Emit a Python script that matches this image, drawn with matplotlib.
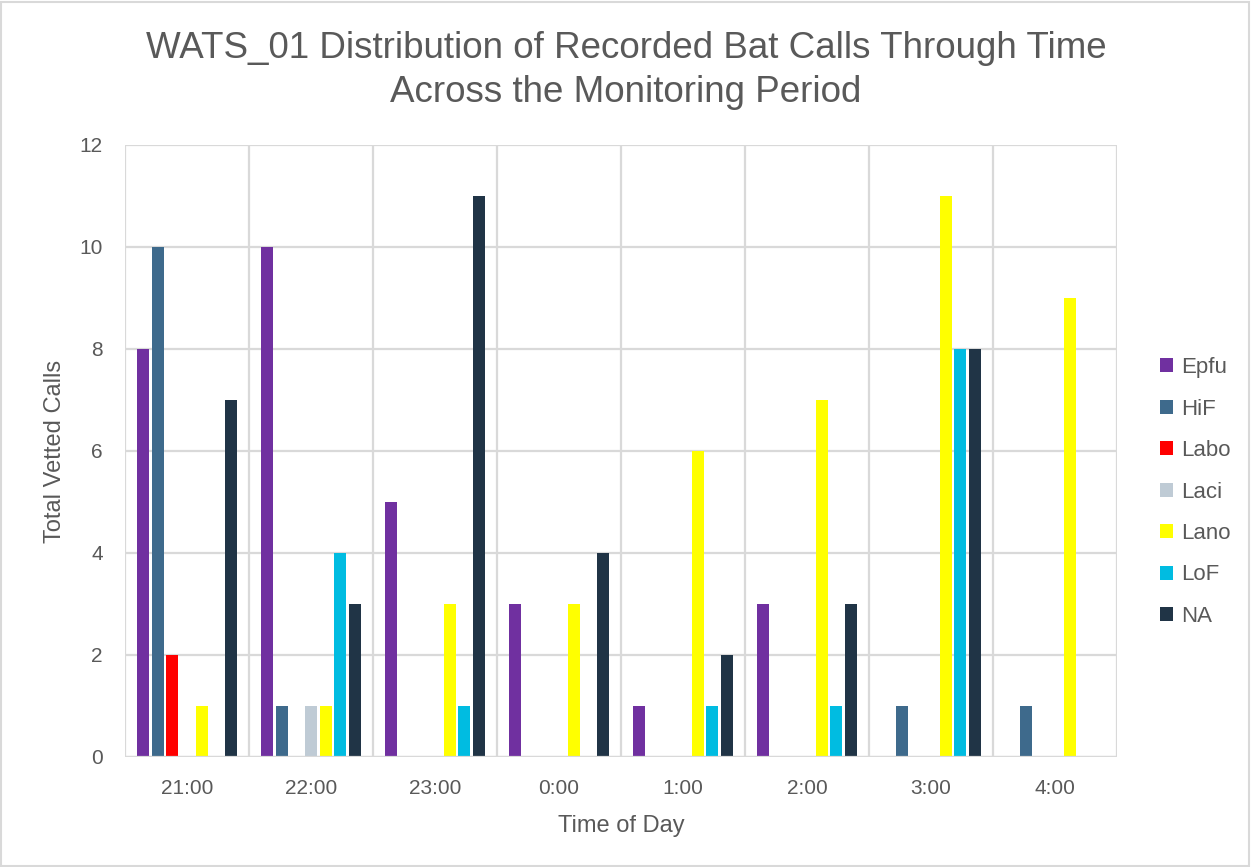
import numpy as np
import matplotlib.pyplot as plt
from matplotlib.patches import Rectangle

plt.rcParams['font.family'] = ['Liberation Sans', 'DejaVu Sans']

hours = ['21:00', '22:00', '23:00', '0:00', '1:00', '2:00', '3:00', '4:00']
species = ['Epfu', 'HiF', 'Labo', 'Laci', 'Lano', 'LoF', 'NA']
colors = ['#7030a0', '#3e6a8c', '#ff0000', '#bfcbd5', '#ffff00', '#00bce1', '#203446']

epfu = [8, 10, 5, 3, 1, 3, 0, 0]
hif = [10, 1, 0, 0, 0, 0, 1, 1]
labo = [2, 0, 0, 0, 0, 0, 0, 0]
laci = [0, 1, 0, 0, 0, 0, 0, 0]
lano = [1, 1, 3, 3, 6, 7, 11, 9]
lof = [0, 4, 1, 0, 1, 1, 8, 0]
na = [7, 3, 11, 4, 2, 3, 8, 0]
counts = [epfu, hif, labo, laci, lano, lof, na]

text_col = '#595959'
grid_col = '#d9d9d9'

fig = plt.figure(figsize=(12.52, 8.67), dpi=100)
ax = fig.add_axes([125 / 1252, 1 - 757 / 867, (1117 - 125) / 1252, (757 - 145) / 867])

x = np.arange(len(hours))
step = 0.1185
width = 0.097
for i, (name, vals, c) in enumerate(zip(species, counts, colors)):
    offs = (i - 3) * step
    ax.bar(x + offs, vals, width=width, color=c, label=name, zorder=3)

ax.set_xlim(-0.5, len(hours) - 0.5)
ax.set_ylim(0, 12)
ax.set_yticks(range(0, 13, 2))
ax.set_xticks(x)
ax.set_xticklabels(hours)
ax.tick_params(axis='both', length=0, labelsize=15, colors=text_col)
ax.tick_params(axis='x', pad=16)
ax.tick_params(axis='y', pad=16)

# horizontal gridlines plus category boundary lines
ax.grid(axis='y', color=grid_col, linewidth=1.6, zorder=0)
for b in np.arange(-0.5, len(hours) + 0.5, 1):
    ax.axvline(b, color=grid_col, linewidth=1.6, zorder=0)
for s in ax.spines.values():
    s.set_visible(False)
ax.axhline(0, color=grid_col, linewidth=1.6, zorder=4)

ax.set_xlabel('Time of Day', fontsize=17, color=text_col, labelpad=12)
ax.set_ylabel('Total Vetted Calls', fontsize=17, color=text_col, labelpad=10)

fig.text(0.5, 1 - 48 / 867, 'WATS_01 Distribution of Recorded Bat Calls Through Time',
         ha='center', va='center', fontsize=26.5, color=text_col)
fig.text(0.5, 1 - 93 / 867, 'Across the Monitoring Period',
         ha='center', va='center', fontsize=26.5, color=text_col)

leg = fig.legend(loc='center left', bbox_to_anchor=(1140 / 1252, 1 - 492 / 867),
                 frameon=False, fontsize=16, labelcolor=text_col,
                 handlelength=0.6, handleheight=0.6, handletextpad=0.35,
                 labelspacing=0.92)

# thin frame around the whole chart
fig.patches.append(Rectangle((0.001, 0.001), 0.997, 0.997, transform=fig.transFigure,
                             fill=False, edgecolor=grid_col, linewidth=1.5))

fig.savefig('out.png', dpi=100)
